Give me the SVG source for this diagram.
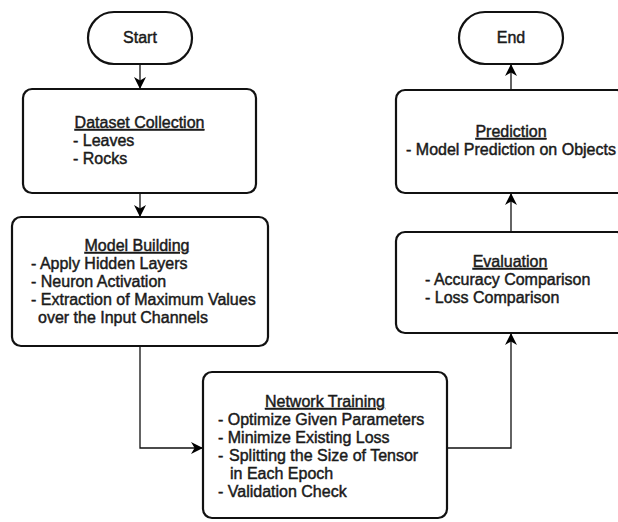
<svg xmlns="http://www.w3.org/2000/svg" width="618" height="522" viewBox="0 0 618 522">
  <defs>
    <marker id="arrow" markerUnits="userSpaceOnUse" markerWidth="12" markerHeight="12" refX="10" refY="5" orient="auto" viewBox="0 0 10 10">
      <path d="M0,0 L10,5 L0,10 L3,5 Z" fill="#000"/>
    </marker>
  </defs>
  <style>
    .box { fill: #fff; stroke: #111; stroke-width: 2.2; }
    .edge { fill: none; stroke: #111; stroke-width: 1.3; marker-end: url(#arrow); }
    text { font-family: "Liberation Sans", Arial, sans-serif; font-size: 16px; fill: #1a1a1a; stroke: #1a1a1a; stroke-width: 0.45; }
    .title { text-anchor: middle; text-decoration: underline; }
    .mid { text-anchor: middle; }
  </style>
  <rect width="618" height="522" fill="#fff"/>

  <g id="connectors">
    <path class="edge" d="M140,64 L140,89"/>
    <path class="edge" d="M140,193 L140,217"/>
    <path class="edge" d="M140,346 L140,448 L203,448"/>
    <path class="edge" d="M447,448 L511,448 L511,333"/>
    <path class="edge" d="M511,232 L511,193"/>
    <path class="edge" d="M511,90 L511,64"/>
  </g>

  <g id="start">
    <rect class="box" x="88" y="12" width="104" height="52" rx="26"/>
    <text class="mid" x="140" y="43">Start</text>
  </g>

  <g id="end">
    <rect class="box" x="459" y="12" width="104" height="52" rx="26"/>
    <text class="mid" x="511" y="43">End</text>
  </g>

  <g id="dataset-collection">
    <rect class="box" x="23" y="89" width="233" height="104" rx="9"/>
    <text class="title" x="139.5" y="128">Dataset Collection</text>
    <text x="73" y="146">- Leaves</text>
    <text x="73" y="164">- Rocks</text>
  </g>

  <g id="model-building">
    <rect class="box" x="12" y="217" width="256" height="129" rx="9"/>
    <text class="title" x="137" y="251">Model Building</text>
    <text x="31" y="269">- Apply Hidden Layers</text>
    <text x="31" y="287">- Neuron Activation</text>
    <text x="31" y="305">- Extraction of Maximum Values</text>
    <text x="38" y="323">over the Input Channels</text>
  </g>

  <g id="network-training">
    <rect class="box" x="203" y="372" width="244" height="146" rx="9"/>
    <text class="title" x="325" y="407">Network Training</text>
    <text x="218" y="425">- Optimize Given Parameters</text>
    <text x="218" y="443">- Minimize Existing Loss</text>
    <text x="218" y="461">-</text>
    <text x="229" y="461">Splitting the Size of Tensor</text>
    <text x="230" y="479">in Each Epoch</text>
    <text x="218" y="497">- Validation Check</text>
  </g>

  <g id="evaluation">
    <rect class="box" x="396" y="232" width="230" height="101" rx="9"/>
    <text class="title" x="510" y="267">Evaluation</text>
    <text x="425" y="285">- Accuracy Comparison</text>
    <text x="425" y="303">- Loss Comparison</text>
  </g>

  <g id="prediction">
    <rect class="box" x="396" y="90" width="230" height="103" rx="9"/>
    <text class="title" x="511" y="137">Prediction</text>
    <text class="mid" x="511" y="155">- Model Prediction on Objects</text>
  </g>
</svg>
